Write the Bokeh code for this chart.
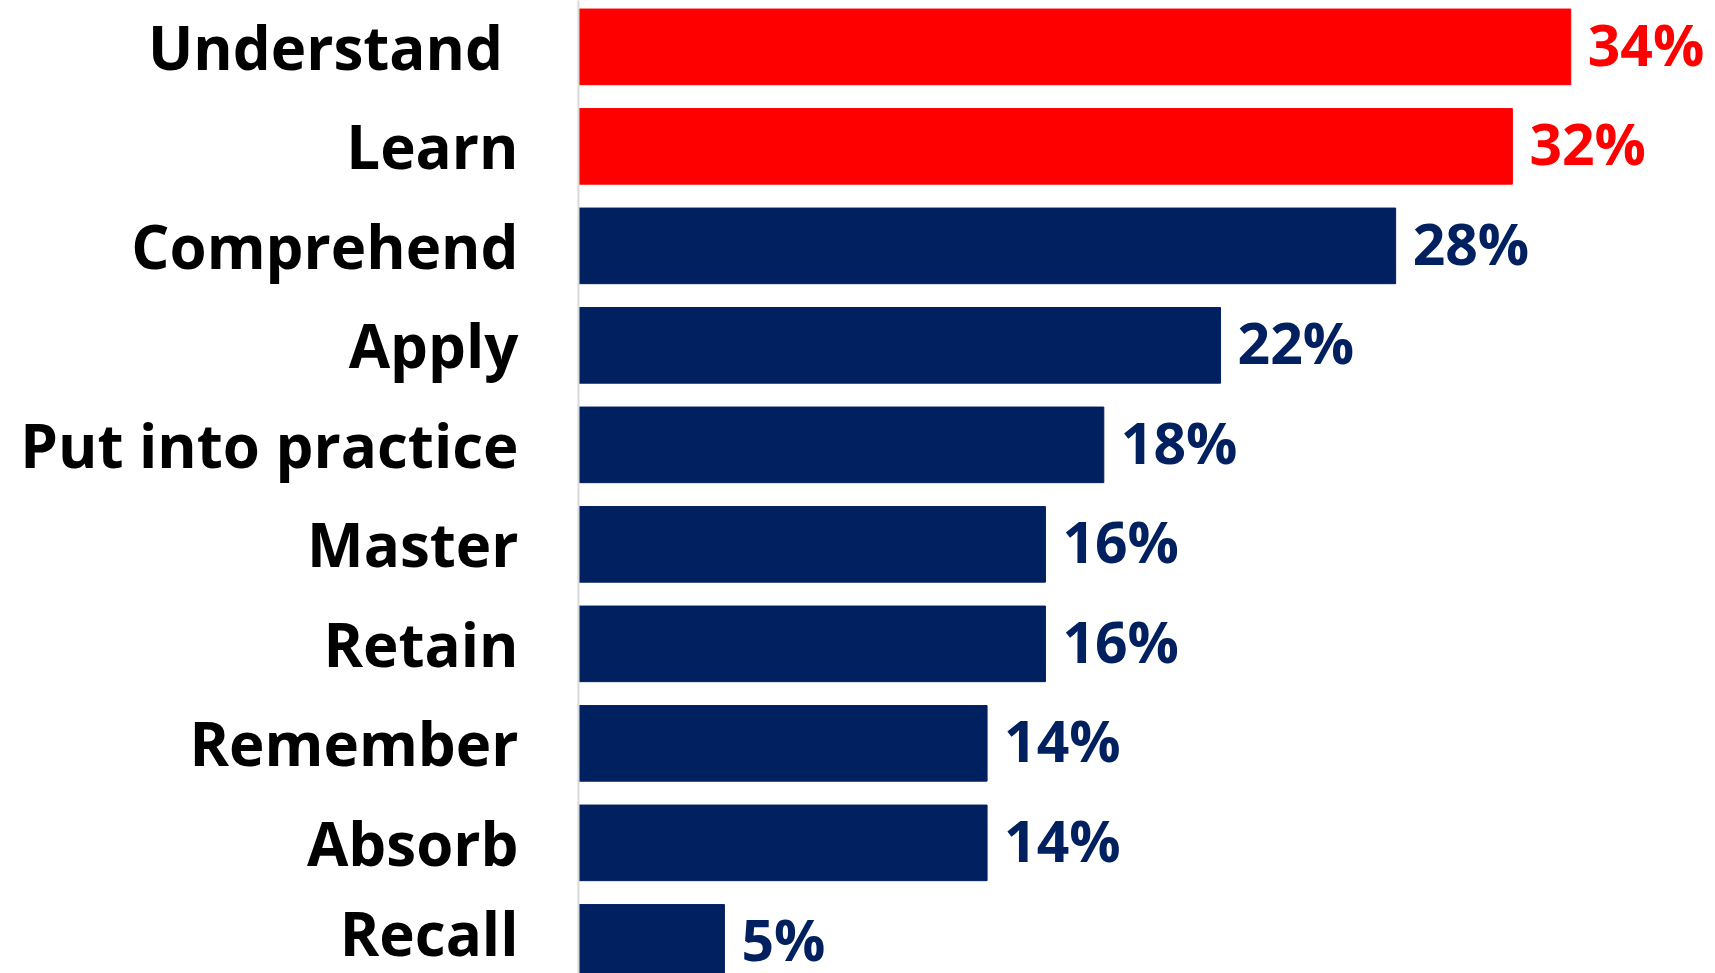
from bokeh.plotting import figure
from bokeh.models import Range1d, FixedTicker, ColumnDataSource
from bokeh.core.properties import value
from bokeh.embed import file_html
from bokeh.resources import INLINE

categories = ["Understand ", "Learn", "Comprehend", "Apply", "Put into practice",
              "Master", "Retain", "Remember", "Absorb", "Recall"]
values = [34, 32, 28, 22, 18, 16, 16, 14, 14, 5]
labels = ["34%", "32%", "28%", "22%", "18%", "16%", "16%", "14%", "14%", "5%"]
highlight = [True, True, False, False, False, False, False, False, False, False]

RED = "#FF0000"
NAVY = "#002060"
n = len(categories)
ys = [n - i - 0.5 for i in range(n)]
colors = [RED if h else NAVY for h in highlight]

src = ColumnDataSource(dict(y=ys, v=values, lab=labels, c=colors))

FONT = "Open Sans"

p = figure(width=1715, height=973, output_backend="svg", toolbar_location=None,
           x_range=Range1d(0, 38.96), y_range=Range1d(0.187, 9.966),
           min_border_left=578, min_border_right=0, min_border_top=0, min_border_bottom=0)
p.hbar(y="y", right="v", left=0, height=0.76, color="c", source=src)
p.text(x="v", y="y", text="lab", text_color="c", x_offset=17, y_offset=-3,
       text_baseline="middle", text_align="left",
       text_font=value(FONT), text_font_size="57px", text_font_style="bold", source=src)

p.xaxis.visible = False
p.xgrid.visible = False
p.ygrid.visible = False
p.outline_line_color = None

ax = p.yaxis[0]
ax.ticker = FixedTicker(ticks=ys)
ax.major_label_overrides = {y: c for y, c in zip(ys, categories)}
ax.major_tick_line_color = None
ax.minor_tick_line_color = None
ax.major_tick_out = 0
ax.major_tick_in = 0
ax.axis_line_color = "#D9D9D9"
ax.axis_line_width = 2
ax.major_label_standoff = 60
ax.major_label_text_font = FONT
ax.major_label_text_font_style = "bold"
ax.major_label_text_font_size = "60px"
ax.major_label_text_color = "#000000"

open("out.html", "w").write(file_html(p, INLINE))
